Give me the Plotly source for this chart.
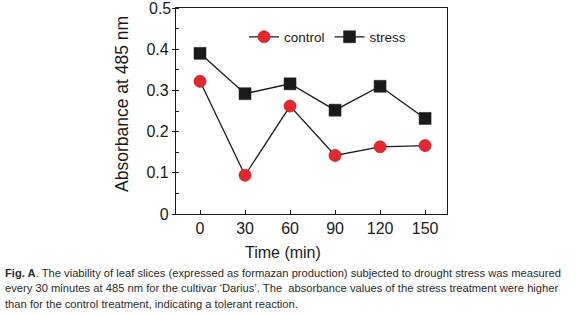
import plotly.graph_objects as go

time_min = [0, 30, 60, 90, 120, 150]
control = [0.322, 0.094, 0.262, 0.142, 0.163, 0.166]
stress = [0.390, 0.292, 0.316, 0.252, 0.310, 0.232]
y_ticks = [0, 0.1, 0.2, 0.3, 0.4, 0.5]
y_ticklabels = ["0", "0.1", "0.2", "0.3", "0.4", "0.5"]

caption_lines = [
    "<b>Fig. A</b>. The viability of leaf slices (expressed as formazan production) subjected to drought stress was measured",
    "every 30 minutes at 485 nm for the cultivar \u2018Darius\u2019. The  absorbance values of the stress treatment were higher",
    "than for the control treatment, indicating a tolerant reaction.",
]

FONT = "Liberation Sans, Arial, sans-serif"
W, H = 576, 315
L, R, T, B = 176, 129, 8, 101
PH = H - T - B
PW = W - L - R

def py(p):
    return (H - B - p) / PH

def px(p):
    return (p - L) / PW

fig = go.Figure()
fig.add_trace(go.Scatter(
    x=time_min, y=control, name="control", mode="lines+markers",
    line=dict(color="#1a1a1a", width=1.3),
    marker=dict(symbol="circle", size=12, color="#e8272c", line=dict(color="#c01e22", width=0.8)),
))
fig.add_trace(go.Scatter(
    x=time_min, y=stress, name="stress", mode="lines+markers",
    line=dict(color="#1a1a1a", width=1.3),
    marker=dict(symbol="square", size=12, color="#1a1a1a", line=dict(color="#1a1a1a", width=0.5)),
))

ann = []
for i, t in enumerate(caption_lines):
    ann.append(dict(
        text=t, xref="paper", yref="paper", x=px(3), y=py(273 + i * 15.3),
        xanchor="left", yanchor="middle", showarrow=False, align="left",
        font=dict(family=FONT, size=11.2, color="#2a2a2a"),
    ))
ann.append(dict(
    text="Time (min)", xref="paper", yref="paper", x=px(283), y=py(253),
    xanchor="center", yanchor="middle", showarrow=False,
    font=dict(family=FONT, size=16, color="#1a1a1a"),
))
ann.append(dict(
    text="Absorbance at 485 nm", xref="paper", yref="paper", x=px(122), y=py(104),
    xanchor="center", yanchor="middle", showarrow=False, textangle=-90,
    font=dict(family=FONT, size=17.5, color="#1a1a1a"),
))
# top tick label (Plotly drops it at the clipped edge)
ann.append(dict(
    text=y_ticklabels[-1], xref="paper", yref="y", x=px(173), y=y_ticks[-1],
    xanchor="right", yanchor="middle", showarrow=False,
    font=dict(family=FONT, size=16, color="#1a1a1a"),
))

fig.update_layout(
    width=W, height=H,
    margin=dict(l=L, r=R, t=T, b=B),
    paper_bgcolor="white", plot_bgcolor="white",
    font=dict(family=FONT, color="#1a1a1a"),
    showlegend=True,
    legend=dict(orientation="h", x=px(244), y=py(37), xanchor="left", yanchor="middle",
                font=dict(size=13.5, color="#1a1a1a"), bgcolor="rgba(0,0,0,0)",
                itemwidth=30, tracegroupgap=0),
    xaxis=dict(range=[-16, 164.6], tickvals=time_min, ticks="inside", ticklen=4,
               tickcolor="#1a1a1a", showline=True, linecolor="#1a1a1a", linewidth=1.3,
               mirror=True, showgrid=False, zeroline=False, automargin=False,
               tickfont=dict(size=16)),
    yaxis=dict(range=[0, 0.5], tickvals=y_ticks, ticktext=y_ticklabels, ticks="outside", ticklen=3,
               tickcolor="#1a1a1a", showline=True, linecolor="#1a1a1a", linewidth=1.3,
               mirror=True, showgrid=False, zeroline=False, automargin=False,
               minor=dict(dtick=0.05, ticks="inside", ticklen=3, tickcolor="#1a1a1a"),
               tickfont=dict(size=16)),
    annotations=ann,
)

fig.write_html("out.html", config={"displayModeBar": False},
               post_script="document.body.style.margin='0';document.body.style.overflow='hidden';")
